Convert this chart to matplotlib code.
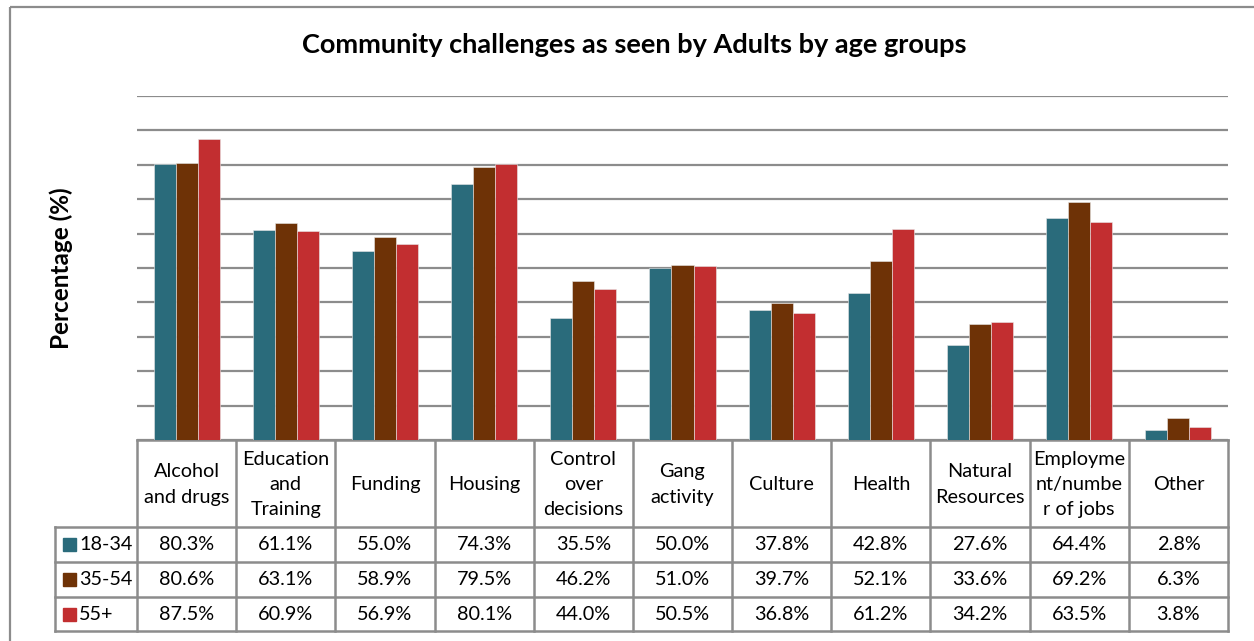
import matplotlib
matplotlib.use("Agg")
import matplotlib.pyplot as plt
from matplotlib.patches import Rectangle
import numpy as np

plt.rcParams['font.family'] = ['Lato', 'DejaVu Sans']

categories = ["Alcohol\nand drugs", "Education\nand\nTraining", "Funding", "Housing",
              "Control\nover\ndecisions", "Gang\nactivity", "Culture", "Health",
              "Natural\nResources", "Employme\nnt/numbe\nr of jobs", "Other"]
series_names = ["18-34", "35-54", "55+"]
values_18_34 = [80.3, 61.1, 55.0, 74.3, 35.5, 50.0, 37.8, 42.8, 27.6, 64.4, 2.8]
values_35_54 = [80.6, 63.1, 58.9, 79.5, 46.2, 51.0, 39.7, 52.1, 33.6, 69.2, 6.3]
values_55_plus = [87.5, 60.9, 56.9, 80.1, 44.0, 50.5, 36.8, 61.2, 34.2, 63.5, 3.8]
colors = ["#2A6B7B", "#6E3206", "#C22E30"]

title = "Community challenges as seen by Adults by age groups"
ylabel = "Percentage (%)"

W, H = 1254, 641
fig = plt.figure(figsize=(W / 100, H / 100), dpi=100)

def px_axes(x0, y0, x1, y1):
    return fig.add_axes([x0 / W, 1 - y1 / H, (x1 - x0) / W, (y1 - y0) / H])

GRID = "#8C8C8C"
series = [values_18_34, values_35_54, values_55_plus]
n = len(categories)
x = np.arange(n)
bw = 0.222

# outer frame
frame = fig.add_axes([0, 0, 1, 1])
frame.set_xlim(0, W)
frame.set_ylim(H, 0)
frame.axis("off")
frame.add_patch(Rectangle((9.5, 6.5), W + 20, H + 20, fill=False, ec="#8C8C8C", lw=1.6))

# chart area
ax = px_axes(137, 96, 1228, 440)
ax.set_xlim(-0.5, n - 0.5)
ax.set_ylim(0, 100)
ax.set_yticks(np.arange(0, 101, 10))
ax.set_xticks([])
ax.tick_params(left=False, labelleft=False)
ax.grid(axis="y", color=GRID, lw=1.6)
ax.set_axisbelow(True)
for s in ax.spines.values():
    s.set_visible(False)
for i, (vals, c) in enumerate(zip(series, colors)):
    ax.bar(x + (i - 1) * bw, vals, width=bw, color=c, edgecolor="#E8E8E8", linewidth=0.4, zorder=3)
ax.patch.set_alpha(0)

fig.text(634 / W, 1 - 45 / H, title, ha="center", va="center", fontsize=19.5, fontweight="bold")
fig.text(61 / W, 1 - 268 / H, ylabel, ha="center", va="center", rotation=90,
         fontsize=17.5, fontweight="bold")

# data table
tx0 = 55
col_w = (1228 - 137) / n
ty = [440, 527, 562, 597, 631]
lw_t = 1.8
fs = 14.3

# header row (category names)
frame.plot([137, 1228], [ty[0], ty[0]], color=GRID, lw=lw_t)
for j in range(n + 1):
    xx = 137 + j * col_w
    frame.plot([xx, xx], [ty[0], ty[-1]], color=GRID, lw=lw_t, solid_capstyle="projecting")
for k in range(1, len(ty)):
    frame.plot([tx0, 1228], [ty[k], ty[k]], color=GRID, lw=lw_t, solid_capstyle="projecting")
frame.plot([tx0, tx0], [ty[1], ty[-1]], color=GRID, lw=lw_t, solid_capstyle="projecting")

for j, cat in enumerate(categories):
    cx = 137 + (j + 0.5) * col_w
    frame.text(cx, (ty[0] + ty[1]) / 2 + 1, cat, ha="center", va="center",
               fontsize=fs, linespacing=1.6)

for r, (name, vals, c) in enumerate(zip(series_names, series, colors)):
    cy = (ty[r + 1] + ty[r + 2]) / 2
    frame.add_patch(Rectangle((63, cy - 6.5), 13, 13, color=c))
    frame.text(79, cy, name, ha="left", va="center", fontsize=fs)
    for j, v in enumerate(vals):
        cx = 137 + (j + 0.5) * col_w
        frame.text(cx, cy, f"{v:.1f}%", ha="center", va="center", fontsize=fs)

fig.savefig("out.png", dpi=100)
